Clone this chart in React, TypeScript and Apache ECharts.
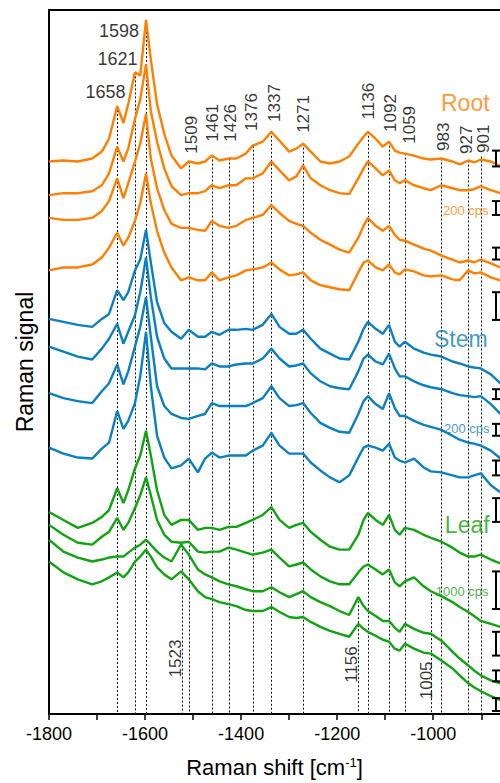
import React, { useEffect, useRef } from "react";
import * as echarts from "echarts";

// Raman shift positions (cm-1, shown as negative values on the axis)
const shifts = [-1800, -1770, -1740, -1710, -1690, -1675, -1658, -1645, -1635, -1621, -1610, -1598, -1588, -1575, -1560, -1545, -1525, -1509, -1490, -1475, -1461, -1445, -1426, -1410, -1390, -1376, -1355, -1337, -1320, -1300, -1285, -1271, -1255, -1235, -1215, -1195, -1175, -1156, -1145, -1136, -1120, -1105, -1092, -1080, -1070, -1059, -1040, -1020, -1005, -983, -960, -945, -927, -915, -901, -880, -860, -840];

// Stacked spectra (offset signal, arbitrary units)
const root1 = [558, 559, 558, 561, 568, 581, 614, 597, 616, 648, 645, 701, 661, 616, 586, 564, 551, 558, 556, 558, 564, 559, 561, 561, 566, 574, 578, 588, 579, 568, 571, 576, 568, 558, 556, 558, 563, 576, 583, 588, 581, 573, 578, 569, 567, 566, 564, 561, 560, 561, 558, 555, 559, 557, 560, 558, 553, 551];
const root2 = [524, 526, 526, 528, 534, 546, 573, 558, 571, 601, 621, 656, 609, 578, 551, 533, 524, 526, 526, 528, 534, 531, 534, 534, 541, 541, 546, 558, 549, 539, 543, 554, 541, 534, 529, 526, 525, 541, 551, 558, 551, 544, 549, 539, 536, 539, 534, 531, 529, 534, 531, 529, 529, 530, 533, 529, 526, 524];
const root3 = [501, 499, 499, 501, 508, 518, 541, 521, 536, 558, 576, 606, 561, 531, 509, 495, 491, 491, 489, 488, 498, 493, 491, 493, 499, 501, 504, 514, 506, 498, 495, 493, 486, 479, 474, 469, 466, 481, 493, 501, 493, 488, 493, 484, 479, 478, 474, 470, 468, 463, 459, 456, 458, 456, 459, 455, 451, 449];
const root4 = [448, 451, 451, 454, 461, 471, 486, 473, 481, 498, 516, 546, 516, 488, 466, 451, 438, 441, 438, 438, 446, 438, 441, 443, 448, 449, 451, 456, 449, 443, 444, 446, 438, 433, 431, 429, 428, 446, 456, 458, 451, 448, 454, 446, 444, 449, 447, 443, 442, 443, 439, 438, 448, 445, 446, 441, 438, 436];
const stem1 = [399, 396, 393, 391, 399, 404, 428, 418, 426, 448, 459, 489, 456, 416, 395, 386, 379, 388, 381, 381, 386, 383, 388, 388, 389, 388, 393, 404, 391, 384, 384, 388, 379, 369, 364, 359, 358, 376, 389, 396, 389, 384, 393, 376, 371, 376, 369, 365, 363, 361, 356, 354, 351, 350, 349, 343, 334, 329];
const stem2 = [371, 366, 361, 358, 369, 379, 394, 374, 386, 403, 426, 461, 421, 381, 359, 349, 349, 349, 349, 348, 354, 351, 351, 353, 354, 354, 359, 369, 359, 351, 352, 354, 344, 336, 331, 329, 328, 346, 359, 363, 356, 353, 364, 349, 341, 341, 336, 332, 330, 328, 324, 322, 321, 320, 321, 313, 303, 298];
const stem3 = [324, 319, 316, 314, 326, 334, 353, 333, 346, 371, 391, 421, 381, 331, 311, 303, 299, 298, 301, 303, 314, 311, 311, 311, 311, 314, 319, 331, 319, 311, 312, 314, 304, 294, 289, 285, 284, 303, 316, 321, 313, 308, 324, 309, 301, 301, 296, 292, 290, 287, 281, 277, 274, 273, 271, 266, 258, 253];
const stem4 = [269, 263, 259, 258, 268, 274, 306, 288, 296, 314, 341, 386, 331, 281, 259, 248, 251, 258, 244, 258, 264, 259, 261, 261, 261, 266, 271, 284, 271, 263, 263, 263, 254, 246, 239, 234, 241, 259, 269, 271, 269, 266, 273, 259, 256, 254, 258, 249, 245, 244, 241, 239, 239, 241, 243, 231, 224, 221];
const leaf1 = [204, 196, 188, 193, 199, 206, 228, 213, 226, 248, 261, 286, 261, 226, 201, 191, 196, 196, 186, 188, 188, 186, 189, 189, 193, 196, 201, 209, 196, 188, 191, 193, 184, 176, 169, 166, 166, 181, 196, 203, 196, 191, 201, 186, 181, 188, 186, 181, 178, 174, 168, 163, 159, 159, 161, 156, 152, 148];
const leaf2 = [191, 181, 173, 171, 179, 184, 198, 186, 193, 208, 221, 239, 221, 196, 181, 174, 173, 174, 164, 163, 164, 164, 168, 166, 163, 161, 163, 166, 158, 149, 151, 153, 146, 139, 134, 131, 131, 143, 149, 151, 146, 141, 146, 133, 129, 134, 138, 129, 124, 119, 113, 108, 103, 99, 94, 91, 88, 85];
const leaf3 = [176, 164, 158, 154, 156, 158, 159, 159, 163, 168, 171, 176, 171, 164, 158, 154, 171, 161, 146, 141, 138, 134, 131, 129, 126, 124, 124, 128, 123, 118, 121, 124, 118, 113, 109, 104, 100, 118, 109, 104, 99, 94, 94, 87, 83, 91, 86, 82, 81, 74, 63, 56, 49, 44, 39, 34, 31, 28];
const leaf4 = [154, 143, 136, 131, 134, 138, 143, 138, 143, 154, 159, 166, 159, 148, 141, 136, 144, 136, 124, 118, 116, 113, 111, 109, 105, 104, 104, 108, 103, 98, 97, 98, 93, 88, 84, 81, 78, 91, 86, 83, 79, 75, 73, 66, 64, 71, 66, 62, 61, 54, 46, 39, 31, 27, 23, 18, 14, 11];

// Peak marker lines (position, top of line in signal units)
const peakLinePos = [-1658, -1621, -1598, -1509, -1461, -1426, -1376, -1337, -1271, -1136, -1092, -1059, -983, -927, -901, -1523, -1156, -1005];
const peakLineTop = [614, 648, 701, 558, 564, 561, 574, 588, 576, 588, 578, 566, 561, 559, 563, 171, 118, 121];

// Horizontal peak labels
const hLabelText = ["1598", "1621", "1658"];
const hLabelAt = [[-1611.5, 690], [-1614.7, 662], [-1639.6, 628]];

// Rotated peak labels
const vLabelText = ["1509", "1461", "1426", "1376", "1337", "1271", "1136", "1092", "1059", "983", "927", "901", "1523", "1156", "1005"];
const vLabelAt = [[-1503, 585], [-1460.6, 597], [-1423, 597], [-1379, 608], [-1330.4, 617], [-1271, 606], [-1135.7, 619], [-1090, 607], [-1050.3, 595], [-979.5, 583], [-931.6, 580], [-896.2, 581], [-1537.6, 56], [-1171.1, 50], [-1014.9, 34]];

// Scale bars (intensity ranges)
const scaleBarPos = -869;
const scaleBarTop = [569, 518, 471, 426, 328, 293, 256, 218, 144, 83, 44, 16];
const scaleBarBottom = [553, 504, 459, 398, 318, 281, 241, 194, 106, 59, 33, 3];

// Group labels
const groupText = ["Root", "Stem", "Leaf", "200 cps", "200 cps", "1000 cps"];
const groupAt = [[-881.6, 617], [-885.8, 379], [-881.6, 191], [-883.7, 509], [-881.6, 288], [-883.7, 124]];

const X_MIN = -1800;
const X_MAX = -861;

const ORANGE = "#FF7F00";
const BLUE = "#0A7FC2";
const GREEN = "#12A312";
const groupColor = [ORANGE, BLUE, GREEN, ORANGE, BLUE, GREEN];
const groupSize = [23, 23, 23, 13, 13, 13];

const FONT = "'Liberation Sans', Arial, sans-serif";

const spectra: [number[], string][] = [
  [root1, ORANGE], [root2, ORANGE], [root3, ORANGE], [root4, ORANGE],
  [stem1, BLUE], [stem2, BLUE], [stem3, BLUE], [stem4, BLUE],
  [leaf1, GREEN], [leaf2, GREEN], [leaf3, GREEN], [leaf4, GREEN],
];

export default function App() {
  const ref = useRef<HTMLDivElement>(null);
  useEffect(() => {
    if (!ref.current) return;
    const chart = echarts.init(ref.current, undefined, { renderer: "svg" });
    const lineSeries = spectra.map(([arr, color]) => ({
      type: "line",
      data: shifts.map((s, i) => [s, arr[i]]),
      showSymbol: false,
      symbol: "none",
      silent: true,
      lineStyle: { width: 2.4, color },
      itemStyle: { color },
      z: 3,
    }));
    const option: any = {
      animation: false,
      backgroundColor: "#fff",
      grid: { left: 49, right: 0, top: 10, bottom: 62 },
      xAxis: [
        {
          type: "value",
          min: X_MIN,
          max: X_MAX,
          interval: 100,
          axisLine: { show: true, lineStyle: { color: "#000", width: 2 } },
          axisTick: { show: true, length: 6, lineStyle: { color: "#000", width: 1.5 } },
          axisLabel: {
            color: "#000",
            fontSize: 18,
            fontFamily: FONT,
            margin: 11,
            showMaxLabel: false,
            formatter: (v: number) => (v % 200 === 0 && v <= -1000 ? String(v) : ""),
          },
          splitLine: { show: false },
          name: "Raman shift [cm{sup|-1}]",
          nameLocation: "middle",
          nameGap: 42,
          nameTextStyle: {
            color: "#000",
            fontSize: 22,
            fontFamily: FONT,
            rich: { sup: { fontSize: 13, color: "#000", fontFamily: FONT, verticalAlign: "top" } },
          },
        },
        {
          type: "value",
          position: "top",
          min: X_MIN,
          max: X_MAX,
          axisLine: { show: true, lineStyle: { color: "#000", width: 2 } },
          axisTick: { show: false },
          axisLabel: { show: false },
          splitLine: { show: false },
        },
      ],
      yAxis: {
        type: "value",
        min: 0,
        max: 711,
        axisLine: { show: true, lineStyle: { color: "#000", width: 2 } },
        axisTick: { show: false },
        axisLabel: { show: false },
        splitLine: { show: false },
        name: "Raman signal",
        nameLocation: "middle",
        nameGap: 13,
        nameTextStyle: { color: "#000", fontSize: 23, fontFamily: FONT },
      },
      series: [
        {
          type: "custom",
          silent: true,
          z: 1,
          encode: { x: 0, y: [1, 2] },
          data: peakLinePos.map((p, i) => [p, peakLineTop[i], 0]),
          renderItem: (params: any, api: any) => {
            const a = api.coord([api.value(0), api.value(1)]);
            const b = api.coord([api.value(0), api.value(2)]);
            const x = Math.round(a[0]) + 0.5;
            return {
              type: "line",
              shape: { x1: x, y1: a[1], x2: x, y2: b[1] },
              style: { stroke: "#111", lineWidth: 1, lineDash: [2, 2] },
            };
          },
        },
        ...lineSeries,
        {
          type: "custom",
          silent: true,
          z: 5,
          encode: { x: 0, y: [1, 2] },
          data: scaleBarTop.map((t, i) => [scaleBarPos, t, scaleBarBottom[i]]),
          renderItem: (params: any, api: any) => {
            const a = api.coord([api.value(0), api.value(1)]);
            const b = api.coord([api.value(0), api.value(2)]);
            const x = Math.round(a[0]);
            const st = { stroke: "#000", lineWidth: 2 };
            return {
              type: "group",
              children: [
                { type: "line", shape: { x1: x, y1: a[1], x2: x, y2: b[1] }, style: st },
                { type: "line", shape: { x1: x - 4, y1: a[1], x2: x + 4, y2: a[1] }, style: st },
                { type: "line", shape: { x1: x - 4, y1: b[1], x2: x + 4, y2: b[1] }, style: st },
              ],
            };
          },
        },
        {
          type: "scatter",
          silent: true,
          z: 6,
          symbolSize: 1,
          itemStyle: { color: "rgba(0,0,0,0)" },
          data: hLabelText.map((t, i) => ({ value: hLabelAt[i], name: t })),
          label: { show: true, position: "left", distance: 0, formatter: "{b}", color: "#000", fontSize: 18, fontFamily: FONT },
        },
        {
          type: "scatter",
          silent: true,
          z: 6,
          symbolSize: 1,
          itemStyle: { color: "rgba(0,0,0,0)" },
          data: vLabelText.map((t, i) => ({ value: vLabelAt[i], name: t })),
          label: { show: true, position: "inside", rotate: 90, formatter: "{b}", color: "#000", fontSize: 17, fontFamily: FONT },
        },
        {
          type: "scatter",
          silent: true,
          z: 6,
          symbolSize: 1,
          itemStyle: { color: "rgba(0,0,0,0)" },
          data: groupText.map((t, i) => ({
            value: groupAt[i],
            name: t,
            label: { color: groupColor[i], fontSize: groupSize[i] },
          })),
          label: { show: true, position: "left", distance: 0, formatter: "{b}", fontFamily: FONT },
        },
      ],
    };
    chart.setOption(option);
    return () => chart.dispose();
  }, []);
  return <div ref={ref} style={{ position: "absolute", left: 0, top: 0, width: 500, height: 783 }} />;
}
